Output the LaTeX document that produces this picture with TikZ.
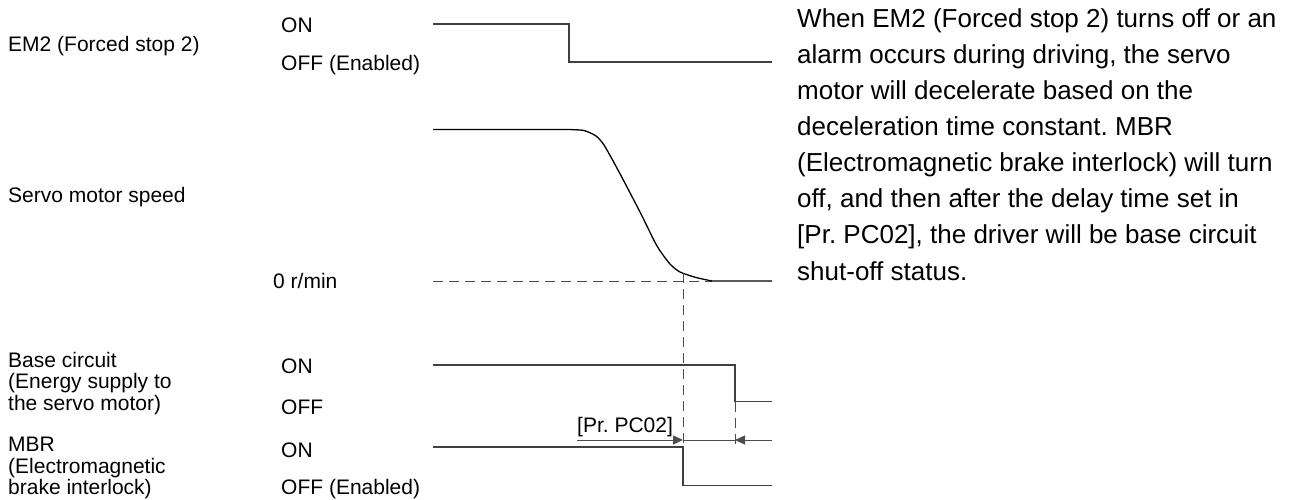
\documentclass[tikz,border=0pt]{standalone}
\usepackage{fontspec}
\setmainfont{Liberation Sans}
\usetikzlibrary{arrows.meta}
\frenchspacing

\begin{document}
\begin{tikzpicture}[
  x=1pt, y=-1pt,
  lbl/.style={anchor=base west, inner sep=0pt, font=\fontsize{21}{21.5}\selectfont},
  lblml/.style={anchor=north west, inner sep=0pt, align=left, font=\fontsize{21}{21.5}\selectfont},
  note/.style={anchor=base west, inner sep=0pt, font=\fontsize{26}{36}\selectfont},
  sig/.style={line width=1.4pt, draw=black!75},
  speedline/.style={line width=1.3pt, draw=black},
  guide/.style={line width=1pt, draw=black!70, dash pattern=on 10pt off 6pt},
  dimline/.style={line width=1pt, draw=black!70},
  tip/.style={dimline, -{Triangle[length=10pt, width=9pt]}}
]
  \useasboundingbox (0,0) rectangle (1301,499);

  % Signal names
  \node[lbl] (em2) at (8,51) {EM2 (Forced stop 2)};
  \node[lbl] (speed) at (8,202) {Servo motor speed};
  \node[lblml] (base) at (8,352) {Base circuit\\(Energy supply to\\the servo motor)};
  \node[lblml] (mbr) at (8,437) {MBR\\(Electromagnetic\\brake interlock)};

  % Levels
  \foreach \n/\y/\t in {em2on/32/ON, em2off/70/OFF (Enabled), baseon/373/ON,
                        baseoff/414/OFF, mbron/457/ON, mbroff/494/OFF (Enabled)} {
    \node[lbl] (\n) at (281,\y) {\t};
  }
  \node[lbl] (zero) at (273,288) {0 r/min};

  % EM2
  \draw[sig] (433,24) -- (569,24) -- (569,62) -- (772,62);

  % Servo motor speed
  \draw[guide] (433,281) -- (712,281);
  \draw[speedline] (433,129.5) -- plot[smooth, tension=0.4] coordinates {
    (568,129.5) (584,130.5) (596,136) (604,145) (618,170) (640,212)
    (657,246) (670,264) (680,272) (696,277.5) (712,281)} -- (772,281);

  % Base circuit
  \draw[sig] (433,365) -- (735,365) -- (735,401.5) -- (772,401.5);

  % MBR
  \draw[sig] (433,447) -- (683,447) -- (683,485.5) -- (772,485.5);

  % Guides down to the delay
  \coordinate (brk) at (683,440);
  \coordinate (bco) at (735,440);
  \draw[guide] (683,273) -- (683,447);
  \draw[guide] (735,401.5) -- (735,447);

  % Delay [Pr. PC02]
  \coordinate (pcstart) at (577,440);
  \coordinate (pcend) at (772,440);
  \draw[tip] (pcstart) -- (brk);
  \draw[dimline] (brk) -- (bco);
  \draw[tip] (pcend) -- (bco);
  \node[lbl] (pc02) at (577,432) {[Pr. PC02]};

  % Explanation
  \foreach \i/\t in {0/{When EM2 (Forced stop 2) turns off or an},
                     1/{alarm occurs during driving, the servo},
                     2/{motor will decelerate based on the},
                     3/{deceleration time constant. MBR},
                     4/{(Electromagnetic brake interlock) will turn},
                     5/{off, and then after the delay time set in},
                     6/{[Pr. PC02], the driver will be base circuit},
                     7/{shut-off status.}} {
    \node[note] (note\i) at (797,27+36.15*\i) {\t};
  }
\end{tikzpicture}
\end{document}
